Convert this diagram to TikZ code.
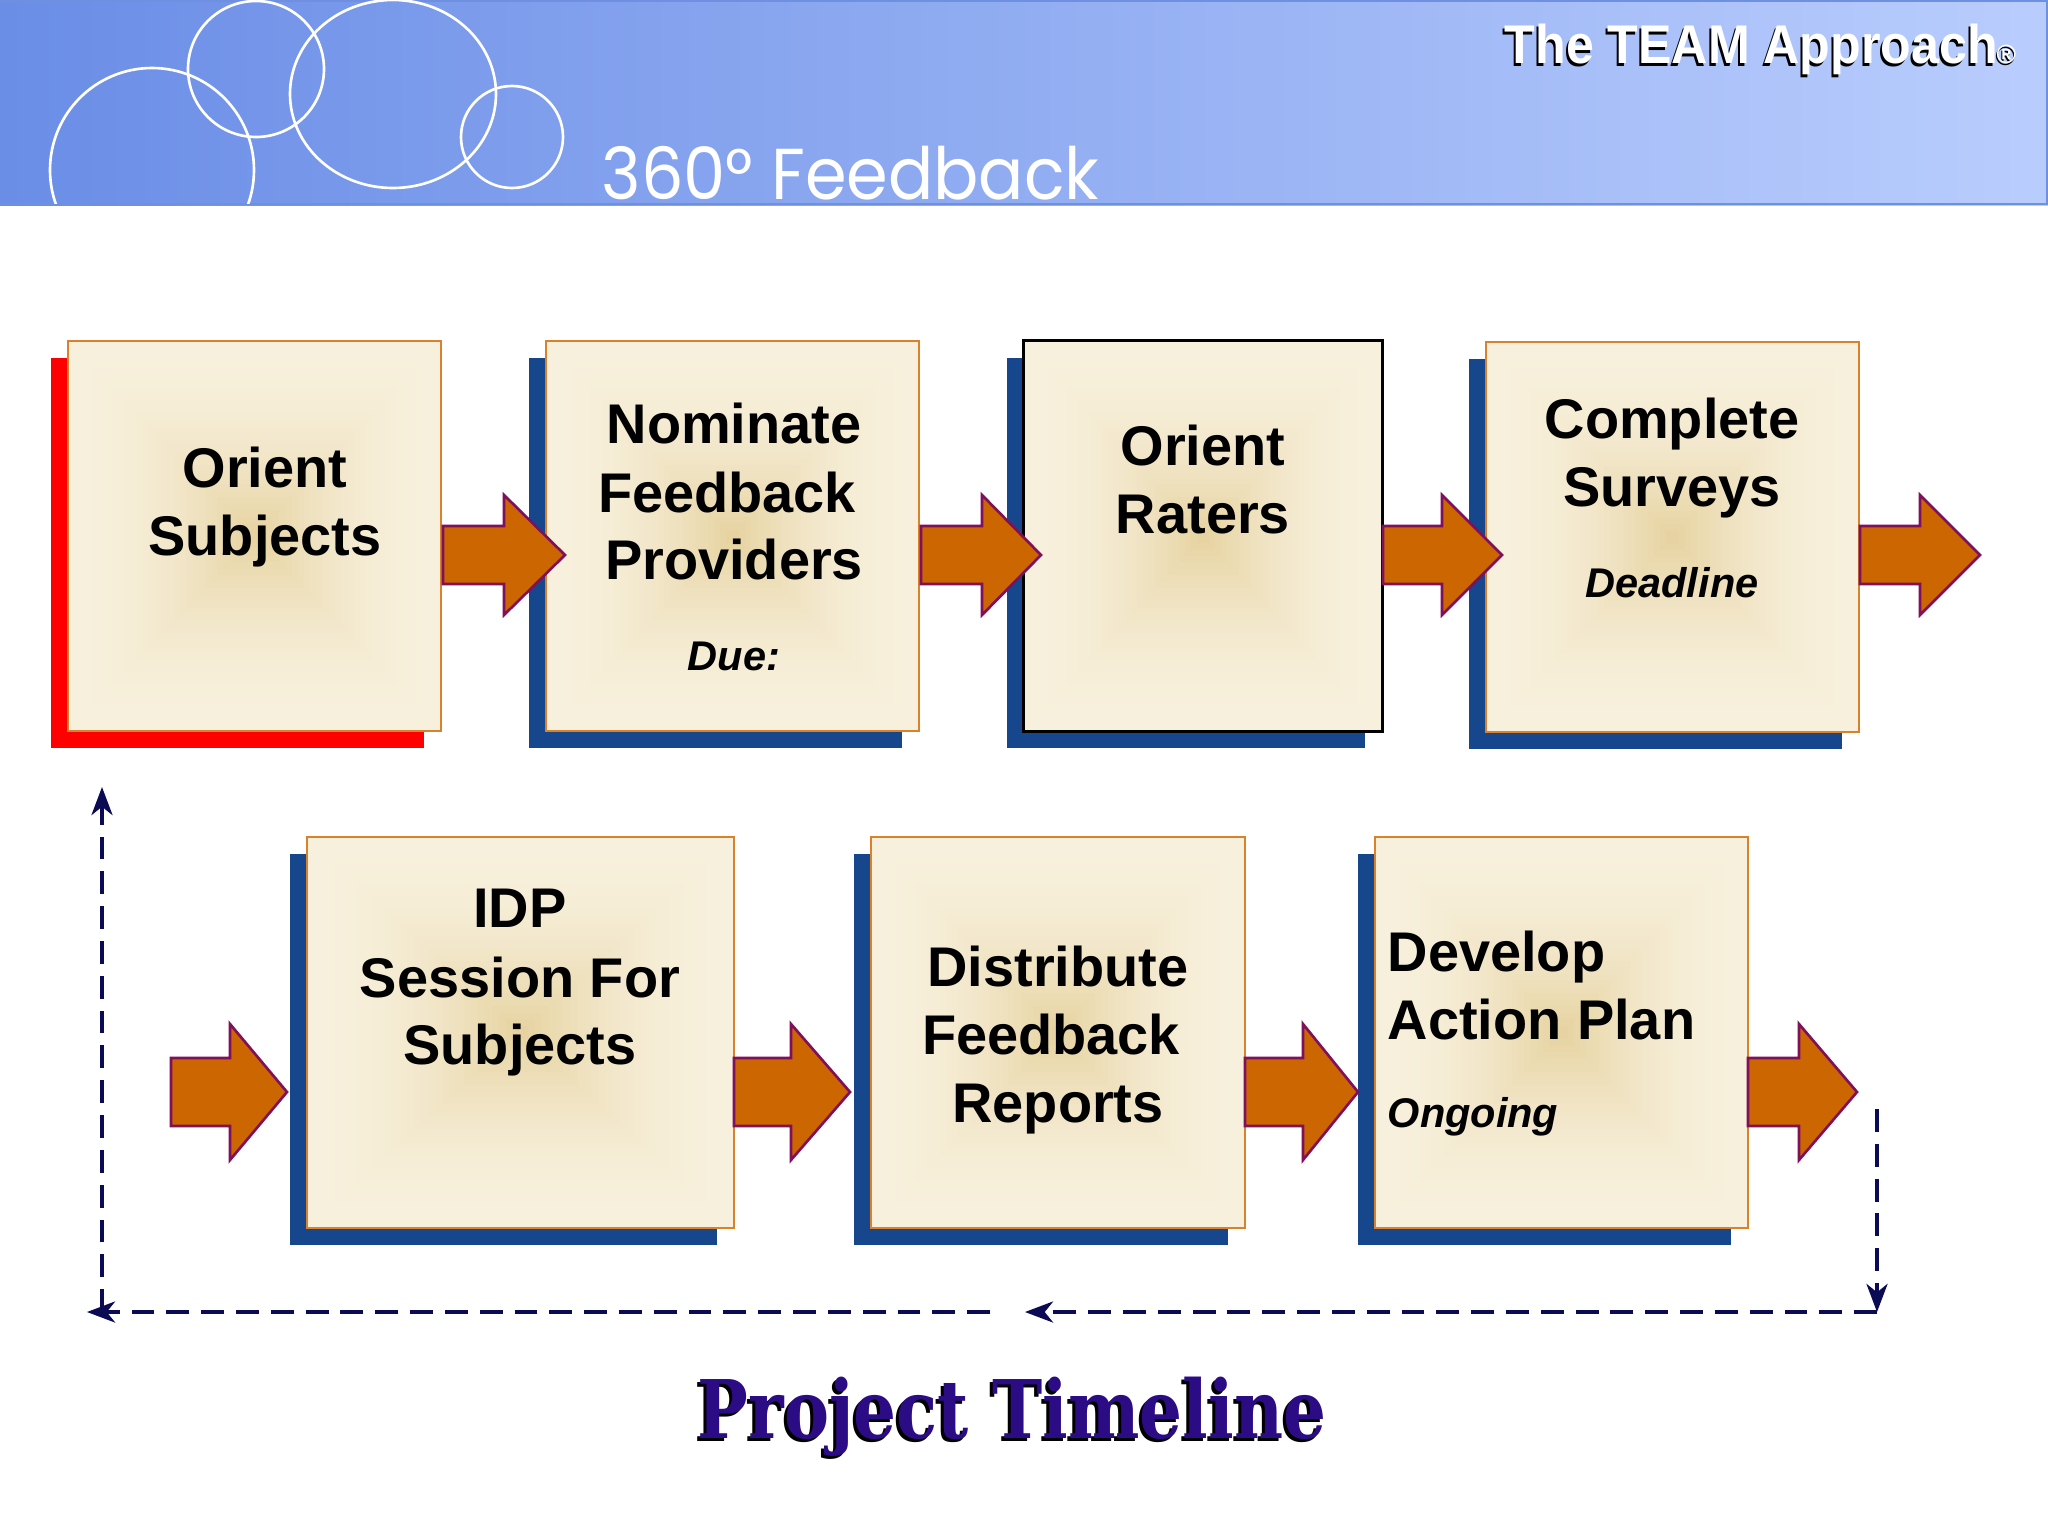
\documentclass[tikz,border=0pt]{standalone}
\usepackage{fontspec}
\setmainfont{Liberation Sans}
\newfontfamily\poppfont{Poppins}
\newfontfamily\serffont{DejaVu Serif}
\usetikzlibrary{arrows.meta,fit}
\definecolor{hdrL}{HTML}{6A8DE6}
\definecolor{hdrR}{HTML}{B9CDFD}
\definecolor{hdrLine}{HTML}{6F8FE0}
\definecolor{boxEdge}{HTML}{F7F0DC}
\definecolor{boxMid}{HTML}{E7D3A2}
\definecolor{boxBorder}{HTML}{D9822B}
\definecolor{shBlue}{HTML}{16478C}
\definecolor{shRed}{HTML}{FF0000}
\definecolor{arrFill}{HTML}{CC6600}
\definecolor{arrLine}{HTML}{80105A}
\definecolor{dashNavy}{HTML}{0A0A55}
\definecolor{titleInd}{HTML}{2C0C85}
\tikzset{
  blockarr/.style={fill=arrFill, draw=arrLine, line width=0.75pt, line join=miter},
  dashline/.style={draw=dashNavy, line width=0.95pt, dash pattern=on 6.5pt off 3.4pt,
     -{Stealth[length=8pt,width=6pt,inset=2.4pt]}},
  boxtxt/.style={inner sep=0pt, anchor=base, font=\bfseries\fontsize{15.9}{19}\selectfont},
  boxtxtl/.style={boxtxt, anchor=base west},
  duetxt/.style={inner sep=0pt, anchor=base, font=\bfseries\itshape\fontsize{11.8}{13}\selectfont},
  duetxtl/.style={duetxt, anchor=base west},
}
\newcommand\panel[7]{%
  \fill[#6] (#2-17,#3+17) rectangle (#4-17,#5+17);
  \foreach \k in {0,...,29}{%
    \pgfmathsetmacro\pc{100*(\k/29)^2}%
    \pgfmathsetmacro\fx{\k*(#4-#2)/60}%
    \pgfmathsetmacro\fy{\k*(#5-#3)/60}%
    \fill[boxMid!\pc!boxEdge] (#2+\fx,#3+\fy) rectangle (#4-\fx,#5-\fy);
  }%
  \coordinate (#1-nw) at (#2,#3);
  \coordinate (#1-se) at (#4,#5);
  \node[fit=(#1-nw)(#1-se), inner sep=0pt, draw=#7, line width=0.6pt] (#1) {};
}
\newcommand\barrow[6]{%
  \filldraw[blockarr] (#1,#4-#5) -- (#2,#4-#5) -- (#2,#4-#6) -- (#3,#4) -- (#2,#4+#6) -- (#2,#4+#5) -- (#1,#4+#5) -- cycle;}
\begin{document}
\begin{tikzpicture}[x=0.01cm,y=-0.01cm]
\useasboundingbox (0,0) rectangle (2048,1536);
\fill[white] (0,0) rectangle (2048,1536);
% header
\shade[left color=hdrL, right color=hdrR] (0,0) rectangle (2048,205);
\draw[hdrLine, line width=0.5pt] (0,1) -- (2047,1) -- (2047,204);
\draw[hdrLine, line width=0.8pt] (0,204) -- (2048,204);
\begin{scope}
  \clip (0,0) rectangle (2048,203);
  \draw[white, line width=0.75pt] (152,170) circle [radius=102];
  \draw[white, line width=0.75pt] (256,69) circle [radius=68];
  \draw[white, line width=0.75pt] (393,94) ellipse [x radius=103, y radius=94];
  \draw[white, line width=0.75pt] (512,137) circle [radius=51];
\end{scope}
\node[inner sep=0pt, anchor=base west, text=white, font=\poppfont\fontsize{20.5}{21}\selectfont] (hdrtitle) at (601,199) {\scalebox{0.93}[1]{360° Feedback}};
\node[inner sep=0pt, anchor=base west, text=black, font=\bfseries\fontsize{15.5}{16}\selectfont] (teamshadow) at (1502,66) {\scalebox{0.92}[1]{The TEAM Approach}};
\node[inner sep=0pt, anchor=base west, text=white, font=\bfseries\fontsize{15.5}{16}\selectfont] (team) at (1504,63) {\scalebox{0.92}[1]{The TEAM Approach}};
\node[inner sep=0pt, anchor=base west, text=black, font=\bfseries\fontsize{7.5}{8}\selectfont] (regshadow) at (1995,65) {®};
\node[inner sep=0pt, anchor=base west, text=white, font=\bfseries\fontsize{7.5}{8}\selectfont] (reg) at (1996,63) {®};
% panels
\panel{b1}{68}{341}{441}{731}{shRed}{boxBorder}
\panel{b2}{546}{341}{919}{731}{shBlue}{boxBorder}
\panel{b4}{1486}{342}{1859}{732}{shBlue}{boxBorder}
\panel{b3}{1024}{341}{1382}{731}{shBlue}{black}
\draw[black, line width=0.8pt] (b3.north west) rectangle (b3.south east);
\panel{b5}{307}{837}{734}{1228}{shBlue}{boxBorder}
\panel{b6}{871}{837}{1245}{1228}{shBlue}{boxBorder}
\panel{b7}{1375}{837}{1748}{1228}{shBlue}{boxBorder}
% texts
\node[boxtxt] (t1a) at (265,487) {Orient};
\node[boxtxt] (t1b) at (265,555) {Subjects};
\node[boxtxt] (t2a) at (734,443) {Nominate};
\node[boxtxt] (t2b) at (727,512) {Feedback};
\node[boxtxt] (t2c) at (734,579) {Providers};
\node[duetxt] (t2d) at (734,670) {Due:};
\node[boxtxt] (t3a) at (1203,465) {Orient};
\node[boxtxt] (t3b) at (1203,533) {Raters};
\node[boxtxt] (t4a) at (1672,438) {Complete};
\node[boxtxt] (t4b) at (1672,506) {Surveys};
\node[duetxt] (t4c) at (1672,597) {Deadline};
\node[boxtxt] (t5a) at (520,927) {IDP};
\node[boxtxt] (t5b) at (520,997) {Session For};
\node[boxtxt] (t5c) at (520,1064) {Subjects};
\node[boxtxt] (t6a) at (1058,986) {Distribute};
\node[boxtxt] (t6b) at (1051,1054) {Feedback};
\node[boxtxt] (t6c) at (1058,1122) {Reports};
\node[boxtxtl] (t7a) at (1387,971) {Develop};
\node[boxtxtl] (t7b) at (1387,1039) {Action Plan};
\node[duetxtl] (t7c) at (1387,1127) {Ongoing};
% block arrows
\barrow{443}{504}{565}{555}{29}{60}
\barrow{921}{982}{1041}{555}{29}{60}
\barrow{1383}{1442}{1502}{555}{29}{60}
\barrow{1860}{1920}{1980}{555}{29}{60}
\barrow{171}{230}{287}{1092}{34}{68}
\barrow{734}{791}{850}{1092}{34}{68}
\barrow{1245}{1303}{1358}{1092}{34}{68}
\barrow{1748}{1799}{1857}{1092}{34}{68}
% dashed return path
\coordinate (dR1) at (1877,1109);
\coordinate (dR2) at (1877,1312);
\coordinate (dM1) at (1025,1312);
\coordinate (dM2) at (990,1312);
\coordinate (dL1) at (87,1312);
\coordinate (dL2) at (102,1312);
\coordinate (dL3) at (102,787);
\draw[dashline] (dR1) -- (dR2);
\draw[dashline] (dR2) -- (dM1);
\draw[dashline] (dM2) -- (dL1);
\draw[dashline] (dL2) -- (dL3);
% title
\node[inner sep=0pt, anchor=base west, text=black, font=\serffont\bfseries\fontsize{23}{24}\selectfont] (ptshadow) at (694,1441) {\scalebox{0.835}[1]{Project Timeline}};
\node[inner sep=0pt, anchor=base west, text=titleInd, font=\serffont\bfseries\fontsize{23}{24}\selectfont] (pt) at (697,1438) {\scalebox{0.835}[1]{Project Timeline}};
\end{tikzpicture}
\end{document}
